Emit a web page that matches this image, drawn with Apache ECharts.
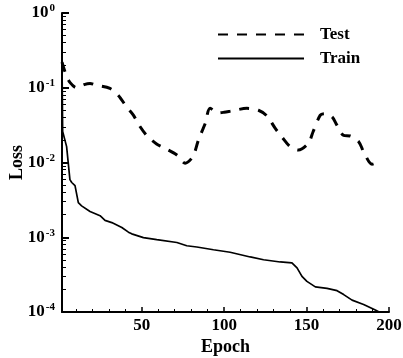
<!DOCTYPE html>
<html>
<head>
<meta charset="utf-8">
<script src="https://cdn.jsdelivr.net/npm/echarts@6/dist/echarts.min.js"></script>
<style>
html,body{margin:0;padding:0;background:#fff;}
#c{width:403px;height:358px;}
</style>
</head>
<body>
<div id="c"></div>
<script>
// ---- data ----
var testEpochs = [1.6, 4, 6.4, 10.5, 15, 18.6, 22.7, 30.7, 35.8, 40.9, 44.9, 48.6, 53, 59, 64, 71.3, 76.3, 81, 84.4, 88.4, 91.5, 96.5, 100, 104.6, 113.8, 120.8, 125.9, 131, 135, 140, 145, 151, 154, 158.3, 160.7, 165.4, 168.4, 172.5, 176.5, 181.6, 184.6, 189.7, 193.7];
var testLoss   = [0.22, 0.15, 0.118, 0.1, 0.11, 0.114, 0.108, 0.098, 0.079, 0.055, 0.043, 0.031, 0.023, 0.0177, 0.0155, 0.0126, 0.0098, 0.012, 0.02, 0.033, 0.053, 0.046, 0.047, 0.049, 0.053, 0.05, 0.042, 0.0286, 0.022, 0.0163, 0.0147, 0.018, 0.026, 0.043, 0.045, 0.041, 0.0316, 0.023, 0.0226, 0.019, 0.0139, 0.0095, 0.0103];

var trainEpochs = [1.6, 2, 4.4, 6.4, 7.5, 9.5, 11.5, 13.5, 18.6, 24.7, 27.7, 31.8, 37.9, 41.9, 43.9, 51, 59.1, 71.3, 77.3, 83.4, 93.5, 103.6, 115.8, 123.9, 134, 141.1, 144.2, 147.2, 150.2, 155.3, 162.4, 168.5, 172.5, 177.6, 184.6, 191.7, 194];
var trainLoss   = [0.22, 0.026, 0.0163, 0.0059, 0.0054, 0.0049, 0.0029, 0.00263, 0.00221, 0.00194, 0.00168, 0.00157, 0.00135, 0.00117, 0.00111, 0.00099, 0.00093, 0.00085, 0.00077, 0.00074, 0.00068, 0.00063, 0.000545, 0.0005, 0.000467, 0.000453, 0.000389, 0.0003, 0.000257, 0.000217, 0.000207, 0.000193, 0.000171, 0.000144, 0.000126, 0.000106, 0.0001];

var seriesNames = ['Test', 'Train'];
var xMajorTicks = [50, 100, 150, 200];
var xMinorTicks = [10, 20, 30, 40, 60, 70, 80, 90, 110, 120, 130, 140, 160, 170, 180, 190];
var yMajorTicks = [0.0001, 0.001, 0.01, 0.1, 1];
var yMinorTicks = [];
for (var k = -4; k < 0; k++) {
  for (var m = 2; m <= 9; m++) yMinorTicks.push(+(m * Math.pow(10, k)).toPrecision(3));
}
var xName = 'Epoch';
var yName = 'Loss';

function pairs(xs, ys) { return xs.map(function (x, i) { return [x, ys[i]]; }); }

var FONT = '"Liberation Serif", "Times New Roman", serif';
var chart = echarts.init(document.getElementById('c'), null, {renderer: 'canvas'});
var xMin = 1.6, xMax = 200;
function blank() { return ' '; }
var hiddenLabel = {fontSize: 4, color: 'rgba(0,0,0,0)'};

var option = {
  animation: false,
  backgroundColor: '#fff',
  grid: {left: 62, right: 14, top: 13, bottom: 46, containLabel: false, outerBoundsMode: 'none'},
  legend: {
    orient: 'vertical',
    left: 212, top: 21,
    itemWidth: 86, itemHeight: 14, itemGap: 7,
    data: seriesNames,
    itemStyle: {opacity: 0},
    textStyle: {fontFamily: FONT, fontWeight: 'bold', fontSize: 17, color: '#000', padding: [0, 0, 0, 11]}
  },
  xAxis: [{
    type: 'value', min: xMin, max: xMax, position: 'bottom',
    name: xName, nameLocation: 'middle', nameGap: 26, nameMoveOverlap: false,
    nameTextStyle: {fontFamily: FONT, fontWeight: 'bold', fontSize: 18, color: '#000'},
    axisLine: {show: true, lineStyle: {color: '#000', width: 2}},
    axisTick: {show: true, inside: true, length: 5, interval: 0, customValues: xMajorTicks, lineStyle: {color: '#000', width: 1.5}},
    axisLabel: {show: true, interval: 0, customValues: xMajorTicks, margin: 5, fontFamily: FONT, fontWeight: 'bold', fontSize: 17, color: '#000'},
    splitLine: {show: false}
  }, {
    type: 'value', min: xMin, max: xMax, position: 'bottom', offset: 0,
    axisLine: {show: false},
    axisTick: {show: true, inside: true, length: 3, interval: 0, customValues: xMinorTicks, lineStyle: {color: '#000', width: 1}},
    axisLabel: Object.assign({show: true, interval: 0, customValues: xMinorTicks, formatter: blank}, hiddenLabel),
    splitLine: {show: false}
  }],
  yAxis: [{
    type: 'log', logBase: 10, min: 0.0001, max: 1, position: 'left',
    name: yName, nameLocation: 'middle', nameGap: 36, nameRotate: 90, nameMoveOverlap: false,
    nameTextStyle: {fontFamily: FONT, fontWeight: 'bold', fontSize: 18, color: '#000'},
    axisLine: {show: true, lineStyle: {color: '#000', width: 2}},
    axisTick: {show: true, inside: true, length: 7, interval: 0, customValues: yMajorTicks, lineStyle: {color: '#000', width: 2}},
    axisLabel: {
      show: true, interval: 0, customValues: yMajorTicks, margin: 7,
      formatter: function (v) {
        var e = Math.round(Math.log10(v));
        return '{b|10}{e|' + e + '}';
      },
      rich: {
        b: {fontFamily: FONT, fontWeight: 'bold', fontSize: 17, color: '#000'},
        e: {fontFamily: FONT, fontWeight: 'bold', fontSize: 11, color: '#000', verticalAlign: 'top', padding: [0, 0, 9, 1]}
      }
    },
    splitLine: {show: false}
  }, {
    type: 'log', logBase: 10, min: 0.0001, max: 1, position: 'left', offset: 0,
    axisLine: {show: false},
    axisTick: {show: true, inside: true, length: 4, interval: 0, customValues: yMinorTicks, lineStyle: {color: '#000', width: 1}},
    axisLabel: Object.assign({show: true, interval: 0, customValues: yMinorTicks, formatter: blank}, hiddenLabel),
    splitLine: {show: false}
  }],
  series: [{
    name: seriesNames[0], type: 'line', xAxisIndex: 0, yAxisIndex: 0,
    data: pairs(testEpochs, testLoss),
    showSymbol: false, symbol: 'none', smooth: 0.3,
    lineStyle: {color: '#000', width: 3, type: [10, 9]},
    itemStyle: {color: '#000'}
  }, {
    name: seriesNames[1], type: 'line', xAxisIndex: 0, yAxisIndex: 0,
    data: pairs(trainEpochs, trainLoss),
    showSymbol: false, symbol: 'none',
    lineStyle: {color: '#000', width: 1.7, type: 'solid'},
    itemStyle: {color: '#000'}
  }]
};
chart.setOption(option);
</script>
</body>
</html>
